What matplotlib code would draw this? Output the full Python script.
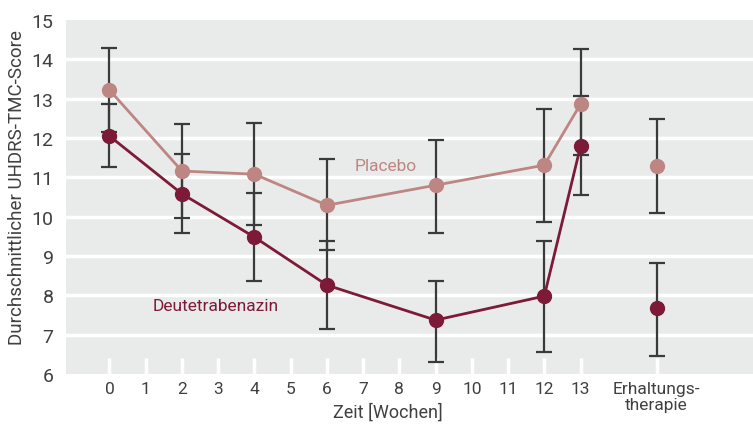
import matplotlib.pyplot as plt

weeks = [0, 2, 4, 6, 9, 12, 13]
maint_x = 15.1

placebo = [13.22, 11.16, 11.08, 10.29, 10.80, 11.31, 12.86]
placebo_lo = [12.15, 9.97, 9.79, 9.15, 9.58, 9.86, 11.57]
placebo_hi = [14.29, 12.36, 12.37, 11.46, 11.95, 12.75, 14.26]

deu = [12.05, 10.58, 9.48, 8.26, 7.37, 7.98, 11.79]
deu_lo = [11.26, 9.58, 8.36, 7.14, 6.30, 6.55, 10.55]
deu_hi = [12.86, 11.60, 10.59, 9.38, 8.36, 9.38, 13.07]

maint_placebo, maint_placebo_lo, maint_placebo_hi = 11.29, 10.09, 12.48
maint_deu, maint_deu_lo, maint_deu_hi = 7.67, 6.45, 8.82

xtick_pos = list(range(14)) + [maint_x]
xtick_labels = [str(i) for i in range(14)] + ["Erhaltungs-\ntherapie"]

plt.rcParams["font.family"] = ["Roboto", "DejaVu Sans"]

c_pl = "#bd8683"
c_deu = "#7c1a38"
c_err = "#3a3a3a"
c_txt = "#404040"

fig = plt.figure(figsize=(7.53, 4.27), dpi=100)
ax = fig.add_axes([66 / 753, 1 - 375 / 427, 1 - 66 / 753, (375 - 21) / 427])
ax.set_facecolor("#e9ebea")
for s in ax.spines.values():
    s.set_visible(False)


def bars(x, y, lo, hi):
    ylo = [a - b for a, b in zip(y, lo)]
    yhi = [b - a for a, b in zip(y, hi)]
    ax.errorbar(x, y, yerr=[ylo, yhi], fmt="none", ecolor=c_err,
                elinewidth=1.6, capsize=6, capthick=1.6, zorder=2)


bars(weeks, placebo, placebo_lo, placebo_hi)
bars(weeks, deu, deu_lo, deu_hi)
bars([maint_x], [maint_placebo], [maint_placebo_lo], [maint_placebo_hi])
bars([maint_x], [maint_deu], [maint_deu_lo], [maint_deu_hi])

ax.plot(weeks, placebo, color=c_pl, lw=2, marker="o", ms=10, zorder=3)
ax.plot(weeks, deu, color=c_deu, lw=2, marker="o", ms=10, zorder=4)
ax.plot([maint_x], [maint_placebo], color=c_pl, marker="o", ms=10, zorder=3)
ax.plot([maint_x], [maint_deu], color=c_deu, marker="o", ms=10, zorder=4)

ax.text(7.62, 11.31, "Placebo", color=c_pl, fontsize=12.5, ha="center", va="center")
ax.text(2.93, 7.75, "Deutetrabenazin", color=c_deu, fontsize=12.5, ha="center", va="center")

ax.set_xlim(-1.2, 17.76)
ax.set_ylim(6, 15)
ax.set_yticks(range(6, 16))
for v in range(7, 15):
    ax.axhline(v, color="white", lw=2.5, zorder=1)

ax.set_xticks(xtick_pos)
ax.set_xticklabels(xtick_labels, linespacing=1.05)
ax.tick_params(axis="x", direction="in", length=11.5, width=2.5, color="white",
               labelsize=12.5, labelcolor=c_txt, pad=5)
ax.tick_params(axis="y", length=0, labelsize=14, labelcolor=c_txt, pad=9)
ax.set_xlabel("Zeit [Wochen]", fontsize=13, color=c_txt, va="center")
ax.xaxis.set_label_coords(0.469, -0.107)
ax.set_ylabel("Durchschnittlicher UHDRS-TMC-Score", fontsize=13.5, color=c_txt, va="center")
ax.yaxis.set_label_coords(-0.072, 0.53)

fig.savefig("out.png", dpi=100)
